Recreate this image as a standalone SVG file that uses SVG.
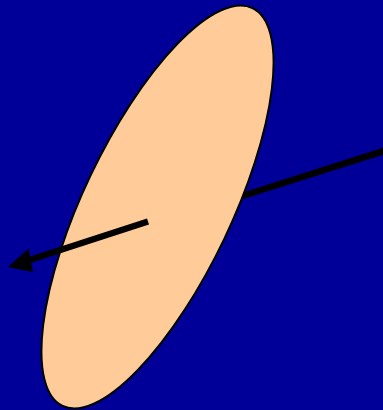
<svg xmlns="http://www.w3.org/2000/svg" width="383" height="410" viewBox="0 0 383 410">
<style>
.ln{stroke:#000;stroke-width:6.5;fill:none}
</style>
<rect width="383" height="410" fill="#000099"/>
<g id="connectors-back">
<line class="ln" x1="390" y1="149" x2="236" y2="198"/>
</g>
<g id="disc">
<ellipse cx="157.5" cy="207" rx="220.5" ry="74" transform="rotate(-64.5 157.5 207)" fill="#FFCC99" stroke="#000" stroke-width="2"/>
</g>
<g id="connectors">
<line class="ln" x1="148" y1="221.5" x2="28" y2="260.5"/>
<polygon points="8,267 28.5,248.5 33,272" fill="#000"/>
</g>
</svg>
